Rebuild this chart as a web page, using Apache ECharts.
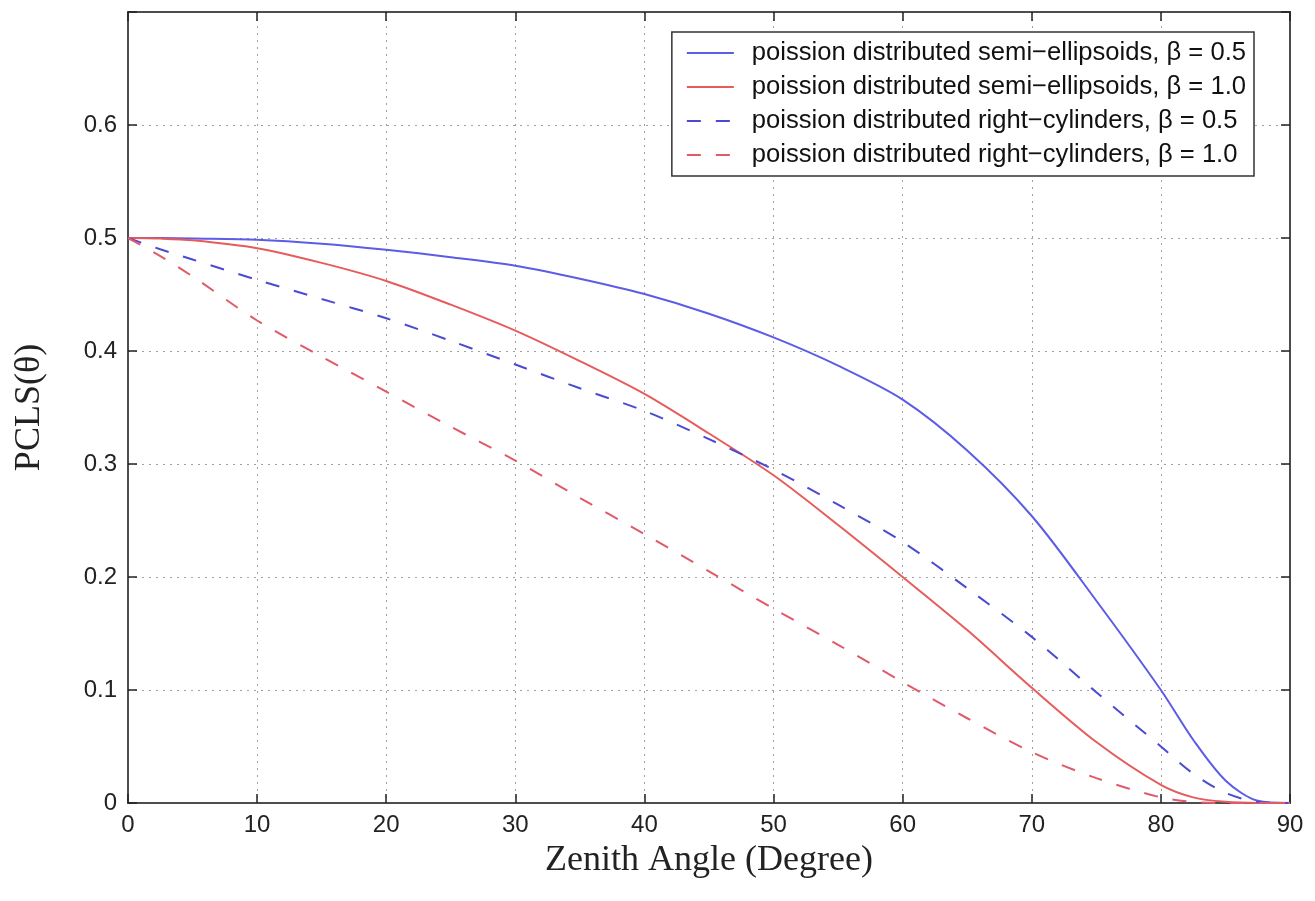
<!DOCTYPE html>
<html>
<head>
<meta charset="utf-8">
<script src="https://cdn.jsdelivr.net/npm/echarts@6/dist/echarts.min.js"></script>
<style>
  html, body { margin: 0; padding: 0; background: #fff; }
  #chart { width: 1315px; height: 901px; }
</style>
</head>
<body>
<div id="chart"></div>
<script>
// Zenith angles (degrees) at which each curve is sampled
const angles = [0, 2.5, 5, 10, 15, 20, 25, 30, 35, 40, 45, 50, 55, 60, 65, 70, 75, 80, 82.5, 85, 87.5, 90];

// PCLS(theta) for poission distributed semi-ellipsoids
const ellipsoidBeta05 = [0.5, 0.4999, 0.4995, 0.4985, 0.495, 0.4896, 0.483, 0.4755, 0.464, 0.4504, 0.433, 0.412, 0.387, 0.357, 0.312, 0.254, 0.179, 0.100, 0.056, 0.020, 0.002, 0];
const ellipsoidBeta10 = [0.5, 0.4995, 0.498, 0.491, 0.478, 0.462, 0.441, 0.418, 0.391, 0.362, 0.327, 0.290, 0.246, 0.200, 0.153, 0.102, 0.054, 0.016, 0.005, 0.001, 0, 0];

// PCLS(theta) for poission distributed right-cylinders
const cylinderBeta05 = [0.5, 0.490, 0.481, 0.463, 0.446, 0.429, 0.409, 0.388, 0.367, 0.347, 0.322, 0.295, 0.264, 0.231, 0.190, 0.147, 0.098, 0.050, 0.026, 0.009, 0.001, 0];
const cylinderBeta10 = [0.5, 0.484, 0.466, 0.427, 0.395, 0.364, 0.333, 0.303, 0.270, 0.238, 0.205, 0.172, 0.140, 0.107, 0.075, 0.045, 0.022, 0.005, 0.001, 0, 0, 0];

const seriesNames = [
  'poission distributed semi\u2212ellipsoids, \u03b2 = 0.5',
  'poission distributed semi\u2212ellipsoids, \u03b2 = 1.0',
  'poission distributed right\u2212cylinders, \u03b2 = 0.5',
  'poission distributed right\u2212cylinders, \u03b2 = 1.0'
];

const xTicks = [0, 10, 20, 30, 40, 50, 60, 70, 80, 90];
const yTicks = [0, 0.1, 0.2, 0.3, 0.4, 0.5, 0.6];

const pairs = ys => angles.map((a, i) => [a, ys[i]]);

const frameColor = '#4d4d4d';
const tickFont = { fontFamily: 'Liberation Sans', fontSize: 24, color: '#222' };
const tickStyle = { show: true, inside: true, length: 9, lineStyle: { color: '#222', width: 1.5 } };
const frameLine = { show: true, onZero: false, lineStyle: { color: frameColor, width: 2 } };
const gridDots = { show: true, lineStyle: { color: '#a0a0a0', width: 1, type: [2, 5] } };

function curve(name, ys, color, dashed) {
  return {
    name: name,
    type: 'line',
    data: pairs(ys),
    smooth: 0.3,
    symbol: 'none',
    xAxisIndex: 0,
    yAxisIndex: 0,
    lineStyle: { color: color, width: 2, type: dashed ? [14, 15] : 'solid' },
    itemStyle: { color: color }
  };
}

const chart = echarts.init(document.getElementById('chart'), null, { renderer: 'canvas' });

chart.setOption({
  backgroundColor: '#ffffff',
  animation: false,
  grid: { left: 128, right: 25, top: 12, bottom: 98, show: true, borderColor: frameColor, borderWidth: 2, backgroundColor: '#fff' },
  legend: {
    data: seriesNames,
    orient: 'vertical',
    right: 61,
    top: 32,
    padding: [8, 8, 8, 14],
    itemWidth: 47,
    itemHeight: 14,
    itemGap: 8,
    itemStyle: { opacity: 0 },
    backgroundColor: '#fff',
    borderColor: '#333',
    borderWidth: 1.5,
    borderRadius: 0,
    textStyle: { fontFamily: 'Liberation Sans', fontSize: 25.6, color: '#111', lineHeight: 26, padding: [0, 0, 0, 13] }
  },
  xAxis: [
    {
      type: 'value', position: 'bottom', min: 0, max: 90, interval: 10,
      name: 'Zenith Angle (Degree)', nameLocation: 'middle', nameGap: 40,
      nameTextStyle: { fontFamily: 'Liberation Serif', fontSize: 36, color: '#222' },
      axisLine: frameLine,
      axisTick: tickStyle,
      axisLabel: Object.assign({
        margin: 10,
        formatter: v => (xTicks.indexOf(Math.round(v)) >= 0 ? String(Math.round(v)) : '')
      }, tickFont),
      splitLine: gridDots
    },
    {
      type: 'value', position: 'top', min: 0, max: 90, interval: 10,
      axisLine: frameLine,
      axisTick: tickStyle,
      axisLabel: { show: false },
      splitLine: { show: false }
    }
  ],
  yAxis: [
    {
      type: 'value', position: 'left', min: 0, max: 0.7, interval: 0.1,
      name: 'PCLS(\u03b8)', nameLocation: 'middle', nameGap: 80,
      nameTextStyle: { fontFamily: 'Liberation Serif', fontSize: 36, color: '#222' },
      axisLine: frameLine,
      axisTick: tickStyle,
      axisLabel: Object.assign({
        margin: 11,
        formatter: v => {
          const r = Math.round(v * 10) / 10;
          return yTicks.indexOf(r) >= 0 ? String(r) : '';
        }
      }, tickFont),
      splitLine: gridDots
    },
    {
      type: 'value', position: 'right', min: 0, max: 0.7, interval: 0.1,
      axisLine: frameLine,
      axisTick: tickStyle,
      axisLabel: { show: false },
      splitLine: { show: false }
    }
  ],
  series: [
    curve(seriesNames[0], ellipsoidBeta05, '#5c5ce6', false),
    curve(seriesNames[1], ellipsoidBeta10, '#e65c5c', false),
    curve(seriesNames[2], cylinderBeta05, '#4a4ad2', true),
    curve(seriesNames[3], cylinderBeta10, '#e05a6a', true)
  ]
});
</script>
</body>
</html>
